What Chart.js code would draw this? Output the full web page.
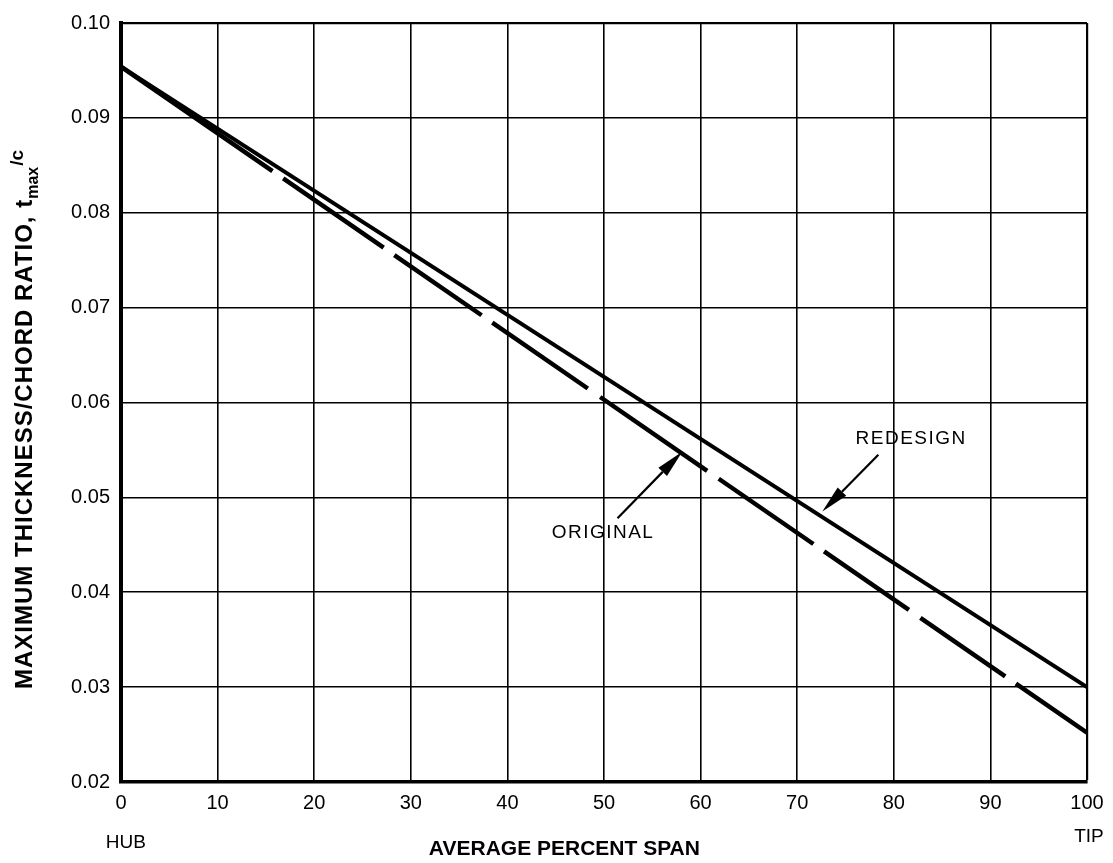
<!DOCTYPE html>
<html>
<head>
<meta charset="utf-8">
<script src="https://cdn.jsdelivr.net/npm/chart.js@4/dist/chart.umd.min.js"></script>
<style>
  html, body { margin: 0; padding: 0; background: #fff; }
  #wrap { width: 1113px; height: 863px; }
</style>
</head>
<body>
<div id="wrap"><canvas id="c" width="1113" height="863"></canvas></div>
<script>
// Blade maximum thickness / chord ratio against average percent span
const spanPct = [0, 100];
const redesignRatio = [0.0954, 0.0300];
const originalRatio = [0.0954, 0.0252];
const spanTicks = [0, 10, 20, 30, 40, 50, 60, 70, 80, 90, 100];
const ratioTicks = [0.02, 0.03, 0.04, 0.05, 0.06, 0.07, 0.08, 0.09, 0.10];
const seriesNames = ['REDESIGN', 'ORIGINAL'];

// Callout labels with leader arrows, in data units (span %, ratio)
const callouts = [
  { text: 'ORIGINAL', label: [49.9, 0.0463], tail: [51.4, 0.0478], tip: [58.1, 0.0548] },
  { text: 'REDESIGN', label: [81.8, 0.0562], tail: [78.4, 0.0545], tip: [72.6, 0.0485] }
];

// Long-dash pattern of the original curve (px along the line)
const originalDash = [184, 13, 122, 13, 106, 13, 116, 15, 130, 14, 115, 13, 103, 14, 103, 13, 240];

const FONT = "'Liberation Sans', Arial, Helvetica, sans-serif";
Chart.defaults.font.family = FONT;
Chart.defaults.color = '#000';

const toPoints = (xs, ys) => xs.map((x, i) => ({ x: x, y: ys[i] }));

const annotate = {
  id: 'annotate',
  afterDraw(chart) {
    const ctx = chart.ctx;
    const xs = chart.scales.x, ys = chart.scales.y;
    const px = v => xs.getPixelForValue(v);
    const py = v => ys.getPixelForValue(v);
    ctx.save();
    ctx.fillStyle = '#000';
    ctx.strokeStyle = '#000';

    // y-axis title with t_max/c
    ctx.save();
    ctx.translate(32, 689);
    ctx.rotate(-Math.PI / 2);
    ctx.textAlign = 'left';
    ctx.textBaseline = 'alphabetic';
    ctx.letterSpacing = '1px';
    ctx.font = 'bold 24px ' + FONT;
    const main = 'MAXIMUM THICKNESS/CHORD RATIO, t';
    ctx.fillText(main, 0, 0);
    let off = ctx.measureText(main).width;
    ctx.letterSpacing = '0px';
    ctx.font = 'bold 16px ' + FONT;
    ctx.fillText('max', off, 6);
    off += ctx.measureText('max').width + 1;
    ctx.font = 'bold 19px ' + FONT;
    ctx.fillText('/c', off, -9);
    ctx.restore();

    // x-axis title and end labels
    ctx.letterSpacing = '0px';
    ctx.textAlign = 'center';
    ctx.textBaseline = 'middle';
    ctx.font = 'bold 21px ' + FONT;
    ctx.fillText('AVERAGE PERCENT SPAN', px(45.9), 849);
    ctx.font = '19px ' + FONT;
    ctx.fillText('HUB', px(0.5), 843);
    ctx.fillText('TIP', px(100.2), 837);

    // callouts
    ctx.letterSpacing = '1.5px';
    callouts.forEach(c => {
      ctx.font = '19px ' + FONT;
      ctx.fillText(c.text, px(c.label[0]), py(c.label[1]));
      const x0 = px(c.tail[0]), y0 = py(c.tail[1]);
      const x1 = px(c.tip[0]), y1 = py(c.tip[1]);
      const ang = Math.atan2(y1 - y0, x1 - x0);
      const headLen = 28, headW = 6;
      const bx = x1 - headLen * Math.cos(ang), by = y1 - headLen * Math.sin(ang);
      ctx.lineWidth = 2.2;
      ctx.beginPath();
      ctx.moveTo(x0, y0);
      ctx.lineTo(bx, by);
      ctx.stroke();
      ctx.beginPath();
      ctx.moveTo(x1, y1);
      ctx.lineTo(bx + headW * Math.sin(ang), by - headW * Math.cos(ang));
      ctx.lineTo(bx - headW * Math.sin(ang), by + headW * Math.cos(ang));
      ctx.closePath();
      ctx.fill();
    });
    ctx.restore();
  }
};

new Chart(document.getElementById('c'), {
  type: 'line',
  data: {
    datasets: [
      {
        label: seriesNames[0],
        data: toPoints(spanPct, redesignRatio),
        borderColor: '#000',
        borderWidth: 4,
        borderCapStyle: 'butt',
        pointRadius: 0,
        tension: 0,
        fill: false
      },
      {
        label: seriesNames[1],
        data: toPoints(spanPct, originalRatio),
        borderColor: '#000',
        borderWidth: 4.5,
        borderCapStyle: 'butt',
        borderDash: originalDash,
        pointRadius: 0,
        tension: 0,
        fill: false
      }
    ]
  },
  options: {
    responsive: false,
    animation: false,
    devicePixelRatio: 1,
    layout: { padding: { top: 17, right: 26, bottom: 0, left: 0 } },
    plugins: { legend: { display: false }, tooltip: { enabled: false }, title: { display: false } },
    scales: {
      x: {
        type: 'linear',
        min: 0,
        max: 100,
        afterBuildTicks: s => { s.ticks = spanTicks.map(v => ({ value: v })); },
        afterFit: s => { s.height = 81; },
        ticks: { color: '#000', font: { size: 20 }, padding: 9, maxRotation: 0, autoSkip: false },
        grid: {
          color: '#000',
          drawTicks: false,
          lineWidth: c => (c.tick && c.tick.value === 100 ? 2.2 : 1.6)
        },
        border: { color: '#000', width: 3.5 }
      },
      y: {
        type: 'linear',
        min: 0.02,
        max: 0.10,
        afterBuildTicks: s => { s.ticks = ratioTicks.map(v => ({ value: v })); },
        afterFit: s => { s.width = 121; },
        ticks: { color: '#000', font: { size: 20 }, padding: 11, autoSkip: false, callback: v => Number(v).toFixed(2) },
        grid: {
          color: '#000',
          drawTicks: false,
          lineWidth: c => (c.tick && Math.abs(c.tick.value - 0.10) < 1e-9 ? 2.2 : 1.6)
        },
        border: { color: '#000', width: 4 }
      }
    }
  },
  plugins: [annotate]
});
</script>
</body>
</html>
